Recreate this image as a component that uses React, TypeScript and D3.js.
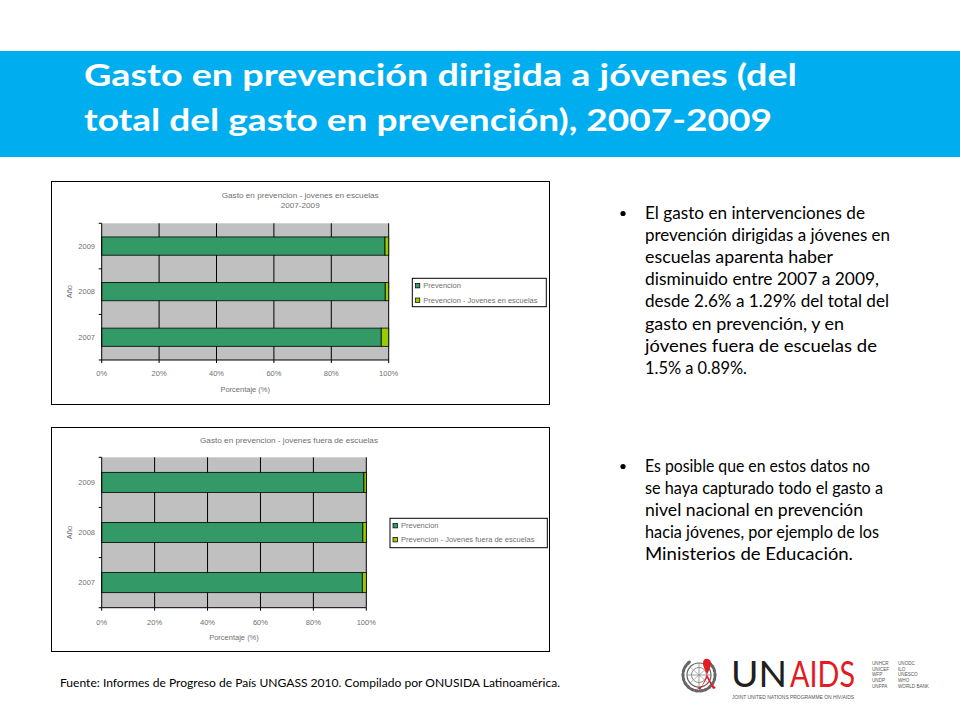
import React from 'react';
import * as d3 from 'd3';

// ---------- DATA ----------
const years = ['2007', '2008', '2009'];
const escuelasJovenes = [2.6, 1.2, 1.29];
const escuelasPrevencion = [97.4, 98.8, 98.71];
const fueraJovenes = [1.5, 1.3, 0.89];
const fueraPrevencion = [98.5, 98.7, 99.11];
const xTicks = [0, 20, 40, 60, 80, 100];

const titleLines = [
  'Gasto en prevención dirigida a jóvenes (del',
  'total del gasto en prevención), 2007-2009',
];
const bullet1 = [
  'El gasto en intervenciones de',
  'prevención dirigidas a jóvenes en',
  'escuelas  aparenta haber',
  'disminuido entre 2007 a 2009,',
  'desde 2.6% a 1.29% del total del',
  'gasto en prevención, y en',
  'jóvenes fuera de escuelas de',
  '1.5% a 0.89%.',
];
const bullet1Ends = [865, 890, 833, 879, 889, 844, 877, 747];
const bullet2 = [
  'Es posible que en estos datos no',
  'se haya capturado todo el gasto a',
  'nivel nacional en prevención',
  'hacia jóvenes, por ejemplo de los',
  'Ministerios de Educación.',
];
const bullet2Ends = [870, 883, 863, 879, 853];
const footer =
  'Fuente: Informes de Progreso de País UNGASS 2010. Compilado por ONUSIDA Latinoamérica.';
const agencies1 = ['UNHCR', 'UNICEF', 'WFP', 'UNDP', 'UNFPA'];
const agencies2 = ['UNODC', 'ILO', 'UNESCO', 'WHO', 'WORLD BANK'];

const GREEN = '#339966';
const LIME = '#99CC00';
const GRAY = '#C0C0C0';
const CHART_TEXT = '#707070';
const CFONT = 'Liberation Sans, Arial, sans-serif';

type ChartProps = {
  box: { x: number; y: number; w: number; h: number };
  plot: { x0: number; x1: number; y0: number; y1: number };
  titles: { text: string; y: number; len: number }[];
  prev: number[];
  jov: number[];
  legendLabels: string[];
  legend: { x0: number; x1: number; y0: number; y1: number; rows: number[] };
  tickY: number;
  axisLabelY: number;
};

function BarChart(p: ChartProps) {
  const x = d3.scaleLinear().domain([0, 100]).range([p.plot.x0, p.plot.x1]);
  const order = [...years].reverse();
  const y = d3
    .scaleBand<string>()
    .domain(order)
    .range([p.plot.y0, p.plot.y1])
    .paddingInner(0.6)
    .paddingOuter(0.3);
  const step = (p.plot.y1 - p.plot.y0) / years.length;
  const cx = (p.plot.x0 + p.plot.x1) / 2;
  const cy = (p.plot.y0 + p.plot.y1) / 2;
  return (
    <g>
      <rect x={p.box.x + 0.5} y={p.box.y + 0.5} width={p.box.w} height={p.box.h} fill="#fff" stroke="#000" strokeWidth={1} />
      {p.titles.map((t, i) => (
        <text key={i} x={cx + 55} y={t.y} textAnchor="middle" fontFamily={CFONT} fontSize={7.5} fill={CHART_TEXT}
          textLength={t.len} lengthAdjust="spacingAndGlyphs">
          {t.text}
        </text>
      ))}
      <rect x={p.plot.x0} y={p.plot.y0} width={p.plot.x1 - p.plot.x0} height={p.plot.y1 - p.plot.y0} fill={GRAY} />
      {xTicks.slice(1).map((t) => (
        <line key={t} x1={x(t)} x2={x(t)} y1={p.plot.y0} y2={p.plot.y1} stroke="#000" strokeWidth={1} />
      ))}
      {years.map((yr, i) => (
        <g key={yr}>
          <rect x={x(0)} y={y(yr)} width={x(p.prev[i]) - x(0)} height={y.bandwidth()} fill={GREEN} stroke="#000" strokeWidth={0.8} />
          <rect x={x(p.prev[i])} y={y(yr)} width={x(100) - x(p.prev[i])} height={y.bandwidth()} fill={LIME} stroke="#000" strokeWidth={0.8} />
          <text x={95} y={(y(yr) as number) + y.bandwidth() / 2 + 2.7} textAnchor="end" fontFamily={CFONT} fontSize={7.5} fill={CHART_TEXT}>
            {yr}
          </text>
        </g>
      ))}
      {/* left axis */}
      <line x1={p.plot.x0} x2={p.plot.x0} y1={p.plot.y0} y2={p.plot.y1} stroke="#000" strokeWidth={1} />
      {d3.range(years.length + 1).map((i) => (
        <line key={i} x1={p.plot.x0 - 3} x2={p.plot.x0} y1={p.plot.y0 + i * step} y2={p.plot.y0 + i * step} stroke="#000" strokeWidth={1} />
      ))}
      {/* bottom axis */}
      <line x1={p.plot.x0} x2={p.plot.x1} y1={p.plot.y1} y2={p.plot.y1} stroke="#000" strokeWidth={1} />
      {xTicks.map((t) => (
        <g key={t}>
          <line x1={x(t)} x2={x(t)} y1={p.plot.y1} y2={p.plot.y1 + 3} stroke="#000" strokeWidth={1} />
          <text x={x(t)} y={p.tickY} textAnchor="middle" fontFamily={CFONT} fontSize={7.5} fill={CHART_TEXT}>
            {`${t}%`}
          </text>
        </g>
      ))}
      <text x={cx} y={p.axisLabelY} textAnchor="middle" fontFamily={CFONT} fontSize={7.5} fill={CHART_TEXT}>
        Porcentaje (%)
      </text>
      <text transform={`translate(${71.5},${cy}) rotate(-90)`} textAnchor="middle" fontFamily={CFONT} fontSize={7.5} fill={CHART_TEXT}>
        Año
      </text>
      {/* legend */}
      <rect x={p.legend.x0} y={p.legend.y0} width={p.legend.x1 - p.legend.x0} height={p.legend.y1 - p.legend.y0} fill="#fff" stroke="#000" strokeWidth={1} />
      {p.legendLabels.map((l, i) => (
        <g key={l}>
          <rect x={p.legend.x0 + 3} y={p.legend.rows[i] - 2.3} width={4.5} height={4.5} fill={i === 0 ? GREEN : LIME} stroke="#000" strokeWidth={0.7} />
          <text x={p.legend.x0 + 11} y={p.legend.rows[i] + 2.6} fontFamily={CFONT} fontSize={7.5} fill={CHART_TEXT}>
            {l}
          </text>
        </g>
      ))}
    </g>
  );
}

function splitO(s: string, oFont: string) {
  const parts = s.split('ó');
  const out: React.ReactNode[] = [];
  parts.forEach((pt, i) => {
    out.push(<tspan key={`p${i}`}>{pt}</tspan>);
    if (i < parts.length - 1)
      out.push(
        <tspan key={`o${i}`} fontFamily={oFont}>
          ó
        </tspan>
      );
  });
  return out;
}

function Bullet({ lines, ends, y0 }: { lines: string[]; ends: number[]; y0: number }) {
  const lh = 22.1;
  return (
    <g>
      <circle cx={623} cy={y0 - 5.5} r={2.6} fill="#000" />
      {lines.map((l, i) => (
        <text key={i} x={645} y={y0 + i * lh} fontFamily="Lato, sans-serif" fontSize={16.5} fill="#000"
          textLength={ends[i] - 645} lengthAdjust="spacingAndGlyphs">
          {splitO(l, 'Liberation Sans, Arial, sans-serif')}
        </text>
      ))}
    </g>
  );
}

function Logo() {
  const cx = 699;
  const cy = 676;
  const leaves = d3.range(0, 9);
  return (
    <g>
      {/* emblem */}
      <circle cx={cx} cy={cy - 1} r={12} fill="none" stroke="#666" strokeWidth={1.2} />
      <circle cx={cx} cy={cy - 1} r={7.5} fill="none" stroke="#777" strokeWidth={0.8} />
      <line x1={cx - 12} x2={cx + 12} y1={cy - 1} y2={cy - 1} stroke="#777" strokeWidth={0.7} />
      <line x1={cx} x2={cx} y1={cy - 13} y2={cy + 11} stroke="#777" strokeWidth={0.7} />
      <path d={`M${cx - 9},${cy - 9} L${cx + 9},${cy + 7} M${cx + 9},${cy - 9} L${cx - 9},${cy + 7}`} stroke="#888" strokeWidth={0.6} />
      {leaves.map((i) => {
        const a = Math.PI * (0.55 + i * 0.09);
        const a2 = Math.PI * (0.45 - i * 0.09);
        return (
          <g key={i}>
            <ellipse cx={cx + 16 * Math.cos(a)} cy={cy - 1 + 16 * Math.sin(a)} rx={1.6} ry={3} fill="#666"
              transform={`rotate(${(a * 180) / Math.PI},${cx + 16 * Math.cos(a)},${cy - 1 + 16 * Math.sin(a)})`} />
            <ellipse cx={cx + 16 * Math.cos(a2)} cy={cy - 1 + 16 * Math.sin(a2)} rx={1.6} ry={3} fill="#666"
              transform={`rotate(${(a2 * 180) / Math.PI},${cx + 16 * Math.cos(a2)},${cy - 1 + 16 * Math.sin(a2)})`} />
          </g>
        );
      })}
      {/* ribbon */}
      <path
        d={`M702,686 L710,668 C714,660 706,657 704,660 C701,664 705,670 712,684 L716,688 L713,689 L707,678 L700,690 L697,688 Z`}
        fill="#E31B23"
      />
      <text x={731} y={686.5} fontFamily="Lato, sans-serif" fontSize={36} fill="#231F20" textLength={56} lengthAdjust="spacingAndGlyphs">
        UN
      </text>
      <text x={790} y={686.5} fontFamily="Lato, sans-serif" fontSize={36} fill="#E31B23" textLength={65} lengthAdjust="spacingAndGlyphs">
        AIDS
      </text>
      <text x={732} y={699} fontFamily="Liberation Sans, sans-serif" fontSize={4.6} fill="#555" textLength={122} lengthAdjust="spacingAndGlyphs">
        JOINT UNITED NATIONS PROGRAMME ON HIV/AIDS
      </text>
      {agencies1.map((a, i) => (
        <text key={a} x={872} y={665 + i * 5.7} fontFamily="Liberation Sans, sans-serif" fontSize={4.6} fill="#555">
          {a}
        </text>
      ))}
      {agencies2.map((a, i) => (
        <text key={a} x={898} y={665 + i * 5.7} fontFamily="Liberation Sans, sans-serif" fontSize={4.6} fill="#555">
          {a}
        </text>
      ))}
    </g>
  );
}

export default function App() {
  return (
    <svg width={960} height={720} viewBox="0 0 960 720" style={{ position: 'absolute', left: 0, top: 0, background: '#fff' }}>
      <rect x={0} y={0} width={960} height={720} fill="#fff" />
      <rect x={0} y={51} width={960} height={106} fill="#00AEEF" />
      {titleLines.map((t, i) => (
        <text key={i} x={84} y={86 + i * 45} fontFamily="Lato, sans-serif" fontWeight={700} fontSize={30} fill="#fff"
          textLength={i === 0 ? 713 : 688} lengthAdjust="spacingAndGlyphs">
          {t}
        </text>
      ))}

      <BarChart
        box={{ x: 51, y: 181, w: 498, h: 223 }}
        plot={{ x0: 101.7, x1: 388.7, y0: 223.3, y1: 360 }}
        titles={[
          { text: 'Gasto en prevencion - jovenes en escuelas', y: 197.5, len: 157 },
          { text: '2007-2009', y: 207.5, len: 39 },
        ]}
        prev={escuelasPrevencion}
        jov={escuelasJovenes}
        legendLabels={['Prevencion', 'Prevencion - Jovenes en escuelas']}
        legend={{ x0: 412.3, x1: 546.3, y0: 278.3, y1: 306.7, rows: [285.7, 300.3] }}
        tickY={376}
        axisLabelY={391.5}
      />
      <BarChart
        box={{ x: 51, y: 427, w: 498, h: 224 }}
        plot={{ x0: 101.7, x1: 366.3, y0: 457.3, y1: 607.7 }}
        titles={[{ text: 'Gasto en prevencion - jovenes fuera de escuelas', y: 442.5, len: 178 }]}
        prev={fueraPrevencion}
        jov={fueraJovenes}
        legendLabels={['Prevencion', 'Prevencion - Jovenes fuera de escuelas']}
        legend={{ x0: 390, x1: 547.3, y0: 518.3, y1: 547.7, rows: [525.7, 539.7] }}
        tickY={624.5}
        axisLabelY={639.5}
      />

      <Bullet lines={bullet1} ends={bullet1Ends} y0={219} />
      <Bullet lines={bullet2} ends={bullet2Ends} y0={472} />

      <text x={60} y={687} fontFamily="Lato, sans-serif" fontSize={11} fill="#000" textLength={500} lengthAdjust="spacingAndGlyphs">
        {footer}
      </text>
      <Logo />
    </svg>
  );
}
